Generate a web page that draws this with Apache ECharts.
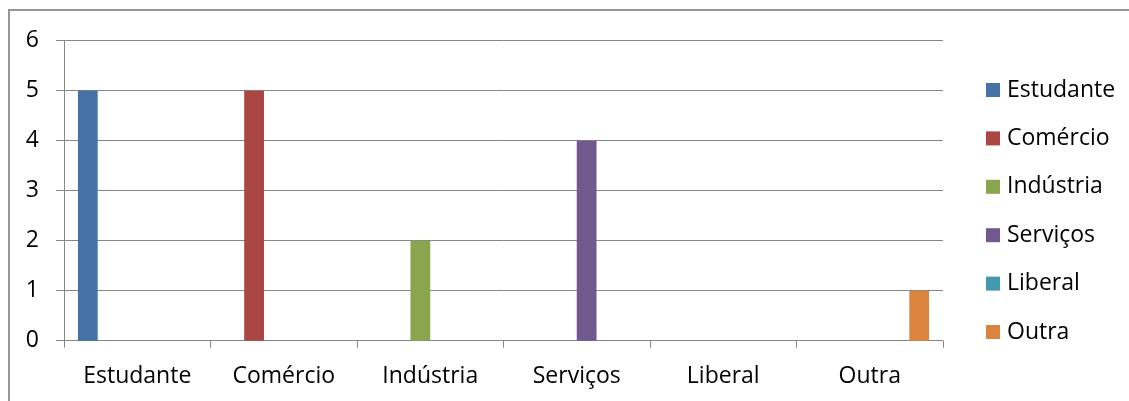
<!DOCTYPE html>
<html>
<head>
<meta charset="utf-8">
<script src="https://cdn.jsdelivr.net/npm/echarts@6/dist/echarts.min.js"></script>
<style>
  html, body { margin: 0; padding: 0; background: #fff; }
  #chart { width: 1129px; height: 401px; }
</style>
</head>
<body>
<div id="chart"></div>
<script>
// Ocupação dos inquiridos: uma série por categoria
const categories = ['Estudante', 'Comércio', 'Indústria', 'Serviços', 'Liberal', 'Outra'];
const counts = [5, 5, 2, 4, 0, 1];
const colors = ['#4572A7', '#AA4643', '#89A54E', '#71588F', '#4198AF', '#DB843D'];
const yTicks = [0, 1, 2, 3, 4, 5, 6];

const FONT = 'Open Sans';
const FS = 23;
const GRAY = '#868686';

// each series only holds a value in its own category
const series = categories.map((name, i) => ({
  name: name,
  type: 'bar',
  barGap: 0,
  barCategoryGap: '19%',
  itemStyle: { color: colors[i] },
  data: categories.map((_, j) => (j === i ? counts[i] : '-'))
}));

const chart = echarts.init(document.getElementById('chart'), null, { renderer: 'canvas' });
chart.setOption({
  animation: false,
  backgroundColor: '#fff',
  textStyle: { fontFamily: FONT },
  graphic: [{
    type: 'rect',
    shape: { x: 9, y: 10, width: 2000, height: 2000 },
    style: { fill: 'none', stroke: '#959595', lineWidth: 2 },
    silent: true
  }],
  grid: { left: 64, right: 186, top: 40.7, bottom: 60.3 },
  legend: {
    orient: 'vertical',
    left: 986,
    top: 78.5,
    padding: 0,
    icon: 'rect',
    itemWidth: 14,
    itemHeight: 14,
    itemGap: 25.4,
    textStyle: { fontFamily: FONT, fontSize: FS, color: '#000', lineHeight: 20, padding: [0, 0, 0, 2] },
    data: categories
  },
  xAxis: {
    type: 'category',
    data: categories,
    axisLine: { show: true, lineStyle: { color: GRAY, width: 1 } },
    axisTick: { show: true, alignWithLabel: false, length: 7, lineStyle: { color: GRAY } },
    axisLabel: { color: '#000', fontFamily: FONT, fontSize: FS, margin: 24 },
    splitLine: { show: false }
  },
  yAxis: {
    type: 'value',
    min: 0,
    max: 6,
    interval: 1,
    axisLine: { show: true, lineStyle: { color: GRAY, width: 1 } },
    axisTick: { show: true, length: 8, lineStyle: { color: GRAY } },
    axisLabel: {
      color: '#000', fontFamily: FONT, fontSize: FS, margin: 25,
      formatter: v => (yTicks.includes(v) ? String(v) : '')
    },
    splitLine: { show: true, lineStyle: { color: GRAY, width: 1 } }
  },
  series: series
});
</script>
</body>
</html>
